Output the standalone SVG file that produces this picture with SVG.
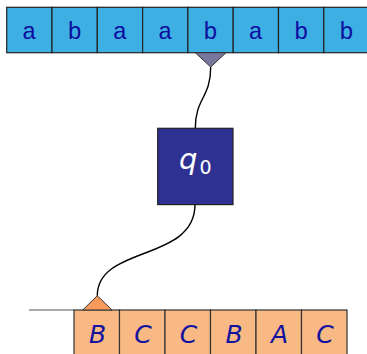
<svg xmlns="http://www.w3.org/2000/svg" width="367" height="354" viewBox="0 0 367 354">
<style>
.tc{fill:#3dafe3;stroke:#222;stroke-width:1.2}
.tt{font-family:"Courier New","Nimbus Mono PS","FreeMono","Liberation Mono",monospace;font-size:24px;fill:#0d0d9e;text-anchor:middle}
.bc{fill:#f9b985;stroke:#333;stroke-width:1.2}
.bt{font-family:"DejaVu Sans","Noto Sans",sans-serif;font-style:italic;font-size:25px;fill:#12129e;text-anchor:middle}
.wire{fill:none;stroke:#000;stroke-width:1.4}
</style>
<g id="input-tape">
<rect class="tc" x="6.7" y="7.3" width="45.3" height="45.4"/>
<rect class="tc" x="52" y="7.3" width="45.3" height="45.4"/>
<rect class="tc" x="97.3" y="7.3" width="45.3" height="45.4"/>
<rect class="tc" x="142.6" y="7.3" width="45.3" height="45.4"/>
<rect class="tc" x="187.9" y="7.3" width="45.3" height="45.4"/>
<rect class="tc" x="233.2" y="7.3" width="45.3" height="45.4"/>
<rect class="tc" x="278.5" y="7.3" width="45.3" height="45.4"/>
<rect class="tc" x="323.8" y="7.3" width="45.3" height="45.4"/>
<text class="tt" x="29.3" y="39.3">a</text>
<text class="tt" x="74.6" y="39.3">b</text>
<text class="tt" x="119.9" y="39.3">a</text>
<text class="tt" x="165.2" y="39.3">a</text>
<text class="tt" x="210.5" y="39.3">b</text>
<text class="tt" x="255.8" y="39.3">a</text>
<text class="tt" x="301.1" y="39.3">b</text>
<text class="tt" x="346.4" y="39.3">b</text>
</g>
<g id="input-head">
<polygon points="195.3,52.7 226,52.7 210.7,67" fill="#77779d" stroke="#333" stroke-width="1"/>
</g>
<g id="state">
<rect x="157.7" y="128.3" width="75.3" height="76.3" fill="#2e3192" stroke="#222" stroke-width="1.2"/>
<text x="179" y="169" font-family="DejaVu Sans,'Noto Sans',sans-serif" font-style="italic" font-size="29" fill="#fff">q</text>
<text x="199.5" y="174" font-family="DejaVu Sans,'Noto Sans',sans-serif" font-size="19" fill="#fff">0</text>
</g>
<g id="output-tape">
<line x1="29" y1="310" x2="74" y2="310" stroke="#555" stroke-width="1.2"/>
<rect class="bc" x="74" y="310" width="45.5" height="50"/>
<rect class="bc" x="119.5" y="310" width="45.5" height="50"/>
<rect class="bc" x="165" y="310" width="45.5" height="50"/>
<rect class="bc" x="210.5" y="310" width="45.5" height="50"/>
<rect class="bc" x="256" y="310" width="45.5" height="50"/>
<rect class="bc" x="301.5" y="310" width="45.5" height="50"/>
<text class="bt" x="97.5" y="343.3">B</text>
<text class="bt" x="143" y="343.3">C</text>
<text class="bt" x="188.5" y="343.3">C</text>
<text class="bt" x="234" y="343.3">B</text>
<text class="bt" x="279.5" y="343.3">A</text>
<text class="bt" x="325" y="343.3">C</text>
</g>
<g id="output-head">
<polygon points="82.7,310 112,310 97.3,295.7" fill="#f89a5c" stroke="#333" stroke-width="1"/>
</g>
<g id="connectors">
<path class="wire" d="M210.7,67 C210.7,98 195.3,98 195.3,128.3"/>
<path class="wire" d="M195,204.6 C195,262 97.3,245 97.3,295.7"/>
</g>
</svg>
